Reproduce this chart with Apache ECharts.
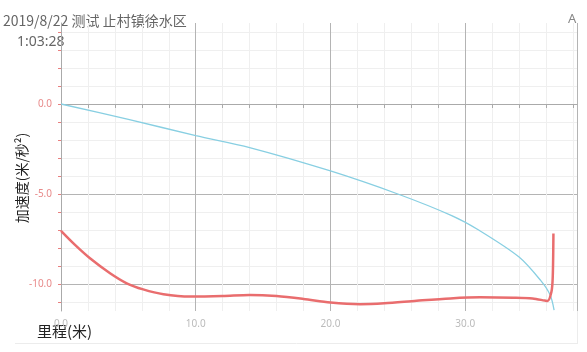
<!DOCTYPE html>
<html>
<head>
<meta charset="utf-8">
<script src="https://cdn.jsdelivr.net/npm/echarts@6/dist/echarts.min.js"></script>
<style>
html,body{margin:0;padding:0;background:#fff;}
#chart{width:587px;height:352px;}
</style>
</head>
<body>
<div id="chart"></div>
<script>
// 纵向加速度 (蓝)
var blueX = [0, 5, 10, 14, 20, 25, 29, 31, 34, 35.6, 36.3, 36.6];
var blueY = [0, -0.85, -1.76, -2.42, -3.72, -5.0, -6.2, -7.0, -8.5, -9.8, -10.6, -11.45];
// 横向加速度 (红)
var redX = [0, 1, 2.15, 3.64, 4.88, 6.1, 7.6, 9.6, 12, 14, 16, 18, 20, 22.2, 24, 26.4, 28.9, 31.1, 33.6, 35.0, 35.9, 36.1, 36.4, 36.5, 36.55];
var redY = [-7.05, -7.8, -8.57, -9.4, -9.96, -10.3, -10.57, -10.7, -10.67, -10.61, -10.67, -10.83, -11.03, -11.12, -11.07, -10.93, -10.8, -10.74, -10.76, -10.8, -10.92, -10.95, -10.45, -9.6, -7.2];
var yTicks = [-11, -10, -9, -8, -7, -6, -5, -4, -3, -2, -1, 0, 1, 2, 3, 4];

var titleText = '2019/8/22 测试 止村镇徐水区';
var timeText = '1:03:28';

function pairs(xs, ys) {
	var out = [];
	for (var i = 0; i < xs.length; i++) out.push([xs[i], ys[i]]);
	return out;
}

var myChart = echarts.init(document.getElementById('chart'));
var major = '#b4b4b4', minor = '#efefef', none = 'rgba(0,0,0,0)';
var option = {
	animation: false,
	grid: { left: 61, right: 10, top: 23, bottom: 41 },
	xAxis: {
		type: 'value',
		min: 0,
		max: 38.3,
		interval: 2,
		axisLine: { lineStyle: { color: '#aaa', width: 1 } },
		axisTick: { show: true, length: 4, lineStyle: { color: '#aaa' } },
		axisLabel: {
			color: '#bbb', fontSize: 10, margin: 8, fontFamily: 'Noto Sans',
			showMaxLabel: false,
			formatter: function (v) { return v % 10 === 0 ? v.toFixed(1) : ''; }
		},
		splitLine: { show: true, lineStyle: { color: [major, minor, minor, minor, minor], width: 1 } }
	},
	yAxis: [{
		type: 'value',
		min: -11.5,
		max: 4.5,
		interval: 0.5,
		axisLine: { show: true, lineStyle: { color: '#aaa', width: 1 } },
		axisTick: { show: false },
		axisLabel: {
			color: '#e88a8a', fontSize: 10, margin: 9, fontFamily: 'Noto Sans',
			showMinLabel: false, showMaxLabel: false,
			formatter: function (v) { return v % 5 === 0 ? v.toFixed(1) : ''; }
		},
		splitLine: { show: true, lineStyle: { color: [none, minor, none, major, none, minor, none, minor, none, minor], width: 1 } }
	}, {
		type: 'value',
		position: 'left',
		min: -11.5,
		max: 4.5,
		axisLine: { show: false },
		axisTick: { show: true, length: 3, customValues: yTicks, lineStyle: { color: '#e97f7f' } },
		axisLabel: { show: false },
		splitLine: { show: false }
	}],
	series: [{
		type: 'line',
		data: pairs(blueX, blueY),
		smooth: 0.3,
		showSymbol: false,
		lineStyle: { color: '#88cfe2', width: 1.3 }
	}, {
		type: 'line',
		data: pairs(redX, redY),
		smooth: 0.3,
		showSymbol: false,
		lineStyle: { color: '#e96d6e', width: 2.5 }
	}],
	graphic: [
		{ type: 'line', shape: { x1: 577.5, y1: 24, x2: 577.5, y2: 344 }, style: { stroke: '#ececec', lineWidth: 1 }, z: -1 },
		{ type: 'line', shape: { x1: 15, y1: 343.5, x2: 578, y2: 343.5 }, style: { stroke: '#ececec', lineWidth: 1 }, z: -1 },
		{ type: 'text', left: 3, top: 14, style: { text: titleText, fill: '#666', font: '14px "Noto Sans CJK SC"' } },
		{ type: 'text', left: 17, top: 35, style: { text: timeText, fill: '#666', font: '14px "Noto Sans"' } },
		{ type: 'text', left: 568, top: 13, style: { text: 'A', fill: '#888', font: '13px "Noto Sans"' } },
		{ type: 'text', x: 22, y: 178, rotation: Math.PI / 2, style: { text: '加速度(米/秒²)', fill: '#222', font: '14px "Noto Sans CJK SC"', align: 'center', verticalAlign: 'middle' } },
		{ type: 'text', left: 37, top: 324, style: { text: '里程(米)', fill: '#222', font: '15px "Noto Sans CJK SC"' } }
	]
};
myChart.setOption(option);
</script>
</body>
</html>
